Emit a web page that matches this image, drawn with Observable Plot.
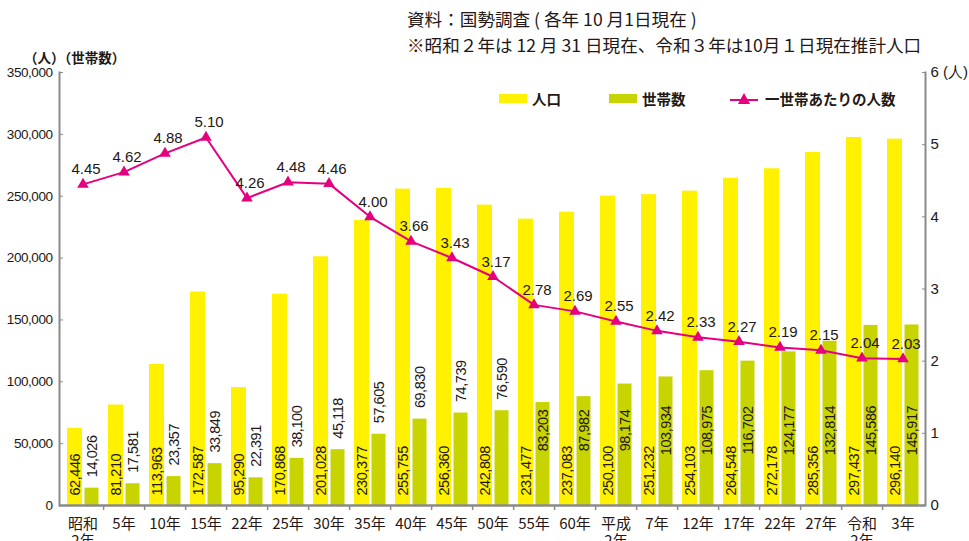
<!DOCTYPE html>
<html>
<head>
<meta charset="utf-8">
<script src="https://cdn.jsdelivr.net/npm/d3@7"></script>
<script src="https://cdn.jsdelivr.net/npm/@observablehq/plot@0.6"></script>
<style>
  html, body { margin: 0; padding: 0; background: #fff; }
  #wrap { position: relative; width: 969px; height: 541px; font-family: "Noto Sans CJK JP", sans-serif; color: #231815; }
  #wrap svg { position: absolute; left: 0; top: 0; }
  .ov { position: absolute; white-space: nowrap; }
  .title { font-size: 17.6px; left: 407px; line-height: 20px; }
  .unit { left: 24px; top: 47px; font-size: 13.5px; font-weight: bold; }
  .leg { top: 88px; font-size: 14.5px; font-weight: bold; display: flex; align-items: center; }
  .sw { display: inline-block; width: 28px; height: 9px; margin-right: 5px; }
  .barlab { letter-spacing: -0.45px; }
</style>
</head>
<body>
<div id="wrap">
  <div class="ov title" style="top:9px">資料：国勢調査 ( 各年 10 月1日現在 )</div>
  <div class="ov title" style="top:35px">※昭和２年は 12 月 31 日現在、令和３年は10月１日現在推計人口</div>
  <div class="ov unit">（人）（世帯数）</div>
  <div class="ov leg" style="left:499px"><span class="sw" style="background:#FFF100"></span>人口</div>
  <div class="ov leg" style="left:609px"><span class="sw" style="background:#C8D400"></span>世帯数</div>
  <div class="ov leg" style="left:730px"><svg width="30" height="14" style="position:static;margin-right:5px"><line x1="0" y1="8" x2="28" y2="8" stroke="#E4007F" stroke-width="2"/><path d="M14,1 L20,12 L8,12 Z" fill="#E4007F"/></svg>一世帯あたりの人数</div>
</div>
<script>
const categories = ["昭和\n2年","5年","10年","15年","22年","25年","30年","35年","40年","45年","50年","55年","60年","平成\n2年","7年","12年","17年","22年","27年","令和\n2年","3年"];
const population = [62446,81210,113963,172587,95290,170868,201028,230377,255755,256360,242808,231477,237083,250100,251232,254103,264548,272178,285356,297437,296140];
const households = [14026,17581,23357,33849,22391,38100,45118,57605,69830,74739,76590,83203,87982,98174,103934,108975,116702,124177,132814,145586,145917];
const perHousehold = [4.45,4.62,4.88,5.10,4.26,4.48,4.46,4.00,3.66,3.43,3.17,2.78,2.69,2.55,2.42,2.33,2.27,2.19,2.15,2.04,2.03];
const leftTicks = [0,50000,100000,150000,200000,250000,300000,350000];
const rightTicks = [0,1,2,3,4,5,6];

const yMax = 350000, rMax = 6, k = yMax / rMax;
const idx = d3.range(categories.length);
const fmt = d3.format(",");
const numFont = "'Liberation Sans',Arial,sans-serif";
const ink = "#231815", axisGray = "#8a8a8a";
const insideThreshold = 80000;

const chart = Plot.plot({
  width: 969, height: 541,
  marginTop: 72, marginBottom: 36, marginLeft: 59, marginRight: 44,
  style: {fontFamily: numFont, color: ink, background: "transparent"},
  x: {type: "band", domain: idx, padding: 0},
  y: {domain: [0, yMax]},
  marks: [
    Plot.barY(idx, {x: i => i, y: i => population[i], fill: "#FFF100", insetLeft: 5, insetRight: 21}),
    Plot.barY(idx, {x: i => i, y: i => households[i], fill: "#C8D400", insetLeft: 22.5, insetRight: 4.5}),
    Plot.text(idx, {x: i => i, y: 0, text: i => fmt(population[i]), rotate: -90, textAnchor: "start", dx: -8, dy: -10, fontSize: 14.5, fill: ink, className: "barlab"}),
    Plot.text(idx.filter(i => households[i] < insideThreshold), {x: i => i, y: i => households[i], text: i => fmt(households[i]), rotate: -90, textAnchor: "start", dx: 9, dy: -11, fontSize: 14.5, fill: ink, className: "barlab"}),
    Plot.text(idx.filter(i => households[i] >= insideThreshold), {x: i => i, y: 0, text: i => fmt(households[i]), rotate: -90, textAnchor: "middle", dx: 9, dy: -75, fontSize: 14.5, fill: ink, className: "barlab"}),
    Plot.line(idx, {x: i => i, y: i => perHousehold[i] * k, stroke: "#E4007F", strokeWidth: 2}),
    Plot.dot(idx, {x: i => i, y: i => perHousehold[i] * k, symbol: "triangle", r: 4.3, fill: "#E4007F"}),
    Plot.text(idx, {x: i => i, y: i => perHousehold[i] * k, text: i => perHousehold[i].toFixed(2), dx: 3, dy: -10, lineAnchor: "bottom", fontSize: 15, fill: ink}),
    Plot.ruleY([0], {stroke: axisGray, strokeWidth: 2.5}),
    Plot.frame({anchor: "left", stroke: axisGray, strokeWidth: 2}),
    Plot.frame({anchor: "right", stroke: axisGray, strokeWidth: 2}),
    Plot.axisY({anchor: "left", ticks: leftTicks, tickFormat: d => fmt(d), tickSize: -4, tickPadding: 11, fontSize: 13.5, stroke: axisGray, color: ink, label: null, className: "barlab"}),
    Plot.axisY({anchor: "right", ticks: rightTicks.map(v => v * k), tickFormat: d => { const v = Math.round(d / k); return v === rMax ? v + " (人)" : String(v); }, tickSize: -4, tickPadding: 9, fontSize: 15, stroke: axisGray, color: ink, label: null}),
    Plot.axisX({ticks: idx.slice(0, -1), tickFormat: () => null, tickSize: 5, dx: 20.62, stroke: axisGray, strokeWidth: 1.5, label: null}),
    Plot.axisX({ticks: idx, tickFormat: i => categories[i], tickSize: 0, tickPadding: 11, fontSize: 15, fontFamily: "'Noto Sans CJK JP',sans-serif", lineHeight: 1.15, color: ink, label: null})
  ]
});
document.getElementById("wrap").prepend(chart);
</script>
</body>
</html>
